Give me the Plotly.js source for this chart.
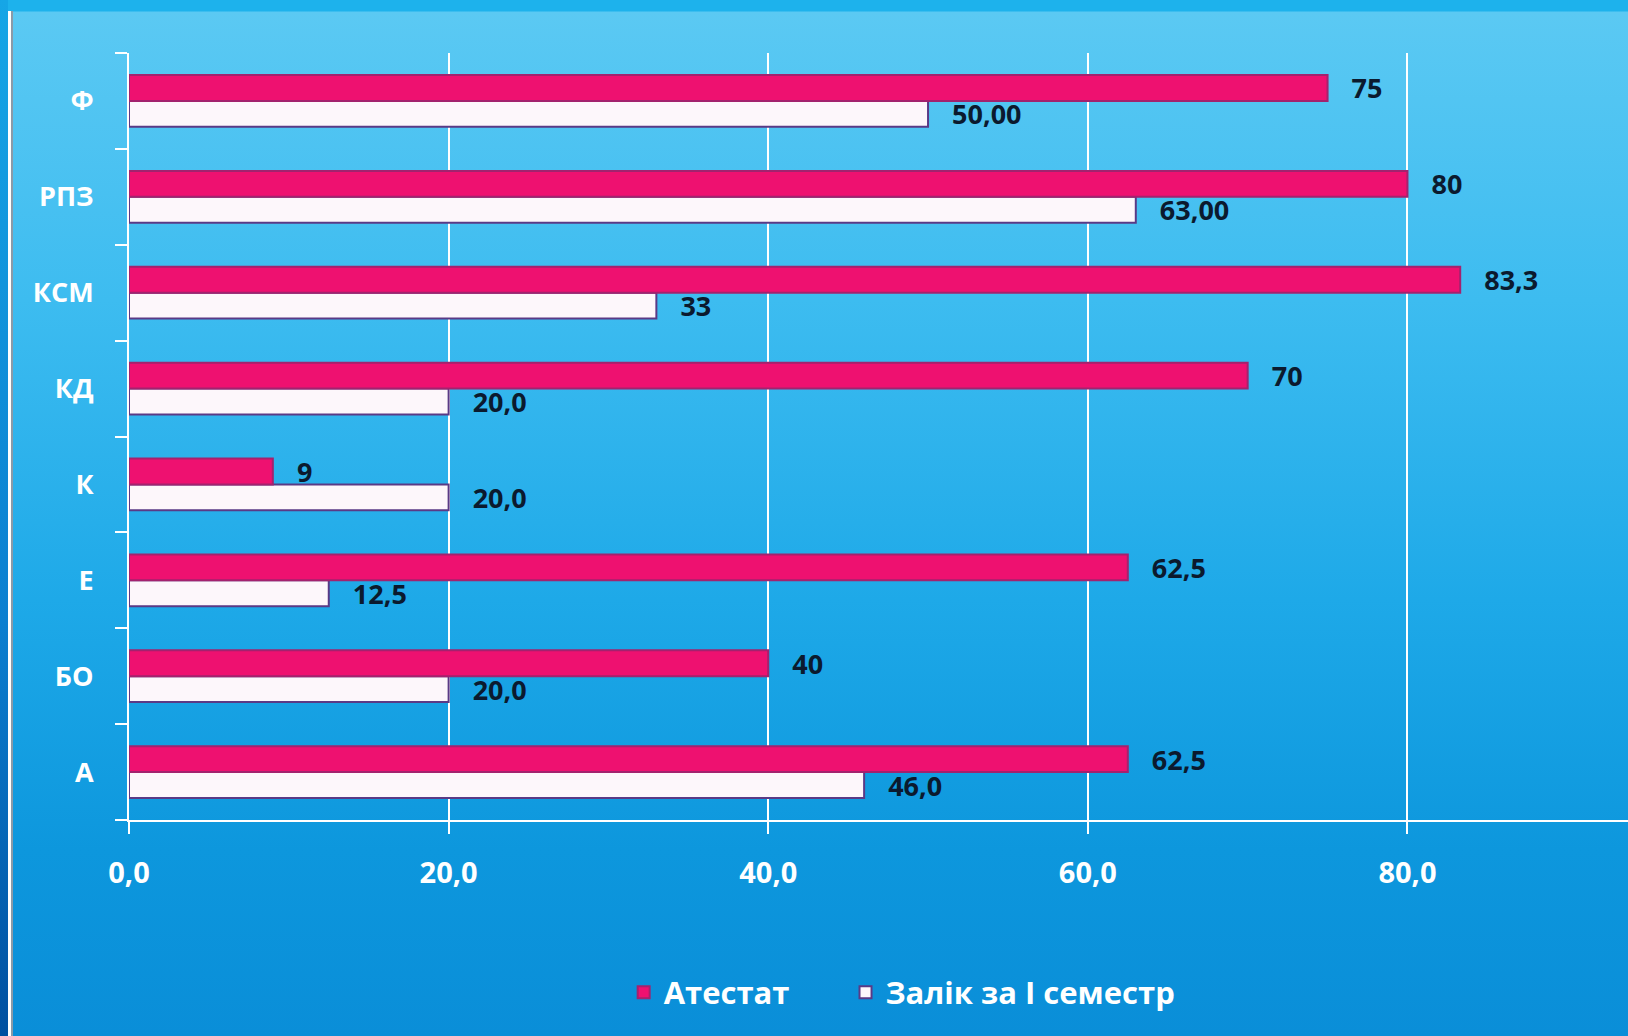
<!DOCTYPE html>
<html>
<head>
<meta charset="utf-8">
<script src="https://cdn.plot.ly/plotly-3.0.1.min.js"></script>
<style>
html,body{margin:0;padding:0;width:1628px;height:1036px;overflow:hidden;}
body{background:linear-gradient(to bottom,#1db2ec 0px,#1db2ec 11px,#5bc9f3 12px,#3dbcf0 300px,#1ea9e8 600px,#0d97dd 850px,#0a8ed8 1036px);}
#edge{position:absolute;left:0;top:0;width:8px;height:1036px;background:linear-gradient(to bottom,#16a6e6,#0b7fd0 60%,#0050a0);}
#line1{position:absolute;left:8px;top:11px;width:3px;height:1025px;background:#ffffff;}
#line2{position:absolute;left:11px;top:11px;width:2px;height:1025px;background:#8a9aa8;}
#chart{position:absolute;left:0;top:0;width:1628px;height:1036px;}
</style>
</head>
<body>
<div id="edge"></div><div id="line1"></div><div id="line2"></div>
<div id="chart"></div>
<script>
const categories = ["А","БО","Е","К","КД","КСМ","РПЗ","Ф"];
const atestatValues = [62.5, 40, 62.5, 9, 70, 83.3, 80, 75];
const atestatLabels = ["62,5","40","62,5","9","70","83,3","80","75"];
const zalikValues = [46.0, 20.0, 12.5, 20.0, 20.0, 33, 63.0, 50.0];
const zalikLabels = ["46,0","20,0","12,5","20,0","20,0","33","63,00","50,00"];
const xTickVals = [0, 20, 40, 60, 80];
const xTickText = ["0,0","20,0","40,0","60,0","80,0"];
const seriesNames = ["Атестат","Залік за І семестр"];

const labelFont = {family:"Open Sans, DejaVu Sans, sans-serif", size:27, color:"#0b1a2e", weight:"bold"};
const legendFont = {family:"Open Sans, DejaVu Sans, sans-serif", size:31, color:"#ffffff", weight:"bold"};

const traces = [
  {
    type:"bar", orientation:"h", name:seriesNames[1], legend:"legend2",
    y:categories, x:zalikValues, text:zalikLabels,
    texttemplate:"   %{text}", textposition:"outside", cliponaxis:false, constraintext:"none",
    textfont:labelFont,
    marker:{color:"#fdf7fb", line:{color:"#5a3a86", width:2}},
    hoverinfo:"skip"
  },
  {
    type:"bar", orientation:"h", name:seriesNames[0], legend:"legend",
    y:categories, x:atestatValues, text:atestatLabels,
    texttemplate:"   %{text}", textposition:"outside", cliponaxis:false, constraintext:"none",
    textfont:labelFont,
    marker:{color:"#ee1170", line:{color:"#a3226e", width:2}},
    hoverinfo:"skip"
  }
];

const layout = {
  width:1628, height:1036,
  paper_bgcolor:"rgba(0,0,0,0)", plot_bgcolor:"rgba(0,0,0,0)",
  margin:{l:129, r:0, t:53, b:216},
  barmode:"group", bargap:0.46, bargroupgap:0,
  showlegend:true,
  legend:{orientation:"h", x:0.33, xanchor:"left", y:-0.225, yanchor:"middle",
          font:legendFont, itemwidth:30, bgcolor:"rgba(0,0,0,0)"},
  legend2:{orientation:"h", x:0.478, xanchor:"left", y:-0.225, yanchor:"middle",
          font:legendFont, itemwidth:30, bgcolor:"rgba(0,0,0,0)"},
  xaxis:{range:[0,93.8], tickvals:xTickVals, ticktext:xTickText,
         showgrid:true, gridcolor:"#ffffff", gridwidth:2,
         zeroline:false, showline:true, linecolor:"#ffffff", linewidth:2,
         ticks:"outside", ticklen:12, tickcolor:"#ffffff", tickwidth:2,
         ticklabelstandoff:14,
         tickfont:{family:"Open Sans, DejaVu Sans, sans-serif", size:29, color:"#ffffff", weight:"bold"},
         fixedrange:true},
  yaxis:{type:"category", categoryorder:"array", categoryarray:categories,
         showgrid:false, zeroline:false, showline:true, linecolor:"#ffffff", linewidth:2,
         ticks:"outside", tickson:"boundaries", ticklen:12, tickcolor:"#ffffff", tickwidth:2,
         ticklabelstandoff:28,
         tickfont:{family:"Open Sans, DejaVu Sans, sans-serif", size:27, color:"#ffffff", weight:"bold"},
         fixedrange:true}
};

Plotly.newPlot("chart", traces, layout, {staticPlot:true, displayModeBar:false});
</script>
</body>
</html>
